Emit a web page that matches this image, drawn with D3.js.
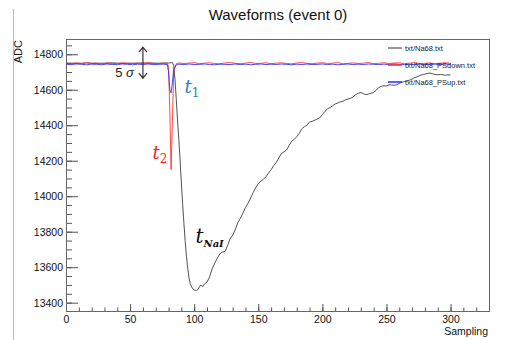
<!DOCTYPE html>
<html>
<head>
<meta charset="utf-8">
<script src="https://cdn.jsdelivr.net/npm/d3@7"></script>
<style>
  body { margin: 0; background: #fff; }
  svg { display: block; font-family: "Liberation Sans", Arial, sans-serif; }
</style>
</head>
<body>
<svg width="512" height="340"></svg>
<script>
// Na68 (black) waveform: [sampling, ADC]
const naPoints = [
  [0,14749],[4,14750],[8,14748],[12,14749],[16,14751],[20,14749],[24,14748],[28,14750],
  [32,14749],[36,14751],[40,14750],[44,14748],[48,14749],[52,14750],[56,14749],[60,14751],
  [64,14749],[68,14750],[72,14749],[76,14750],[80,14751],[82,14752],[83,14753],[84,14738],
  [85,14660],[86,14550],[87,14430],[88,14320],[89,14205],[90,14075],[91,13955],[92,13845],
  [93,13745],[94,13660],[95,13592],[96,13538],[97,13506],[98,13488],[99,13478],[100,13472],
  [101,13470],[102,13470],[103,13474],[104,13488],[105,13498],[106,13494],[107,13492],[108,13505],
  [110,13515],[112,13545],[114,13590],[116,13622],[118,13650],[120,13675],[122,13685],[124,13688],
  [126,13720],[128,13760],[130,13780],[132,13810],[134,13850],[136,13875],[138,13905],[140,13935],
  [142,13960],[144,13990],[146,14020],[148,14048],[150,14070],[152,14085],[154,14095],[156,14110],
  [158,14130],[160,14150],[162,14172],[164,14190],[166,14215],[168,14240],[170,14250],[172,14260],
  [174,14285],[176,14310],[178,14320],[180,14335],[182,14355],[184,14380],[186,14392],[188,14400],
  [190,14418],[192,14422],[194,14428],[196,14435],[198,14442],[200,14460],[202,14478],[204,14492],
  [206,14500],[208,14510],[210,14520],[212,14525],[214,14532],[216,14535],[218,14543],[220,14548],
  [222,14552],[224,14560],[226,14572],[228,14580],[230,14585],[232,14578],[234,14572],[236,14576],
  [238,14580],[240,14585],[242,14598],[244,14612],[246,14620],[248,14622],[250,14622],[252,14628],
  [254,14627],[256,14625],[258,14628],[260,14636],[262,14642],[264,14646],[266,14650],[268,14654],
  [270,14660],[272,14668],[274,14674],[276,14680],[278,14685],[280,14688],[282,14692],[284,14694],
  [286,14690],[288,14686],[290,14684],[292,14686],[294,14684],[296,14682],[298,14684],[300,14683]
];

// PSdown (red) and PSup (blue) waveforms
const preSampling = [0,4,8,12,16,20,24,28,32,36,40,44,48,52,56,60,64,68,72,76];
const spikeSampling = [79,80,81,82,83,84,86];
const postSampling = [88,92,96,100,104,108,112,116,120,124,128,132,136,140,144,148,152,156,
  160,164,168,172,176,180,184,188,192,196,200,204,208,212,216,220,224,228,232,236,240,244,
  248,252,256,260,264,268,272,276,280,284,288,292,296,300];

const downPre = [14750,14747,14752,14748,14753,14749,14751,14746,14752,14749,
  14747,14752,14750,14747,14751,14748,14753,14749,14747,14751];
const downSpike = [14749,14730,14480,14150,14420,14700,14747];
const downPost = [14751,14748,14750,14753,14747,14750,14752,14748,14746,
  14751,14753,14749,14747,14750,14754,14748,14749,14752,
  14747,14750,14752,14748,14746,14751,14753,14749,14747,
  14750,14752,14748,14750,14753,14746,14749,14751,14748,
  14750,14753,14747,14749,14752,14748,14750,14752,14746,
  14750,14753,14748,14749,14751,14747,14750,14752,14749];

const upPre = [14744,14742,14745,14743,14741,14744,14743,14741,14745,14742,
  14742,14745,14743,14741,14744,14742,14745,14742,14743,14744];
const upSpike = [14742,14700,14600,14582,14640,14715,14740];
const upPost = [14744,14742,14745,14742,14743,14745,14742,14741,14744,
  14743,14742,14745,14742,14744,14741,14743,14745,14742,
  14744,14742,14745,14743,14741,14744,14742,14745,14742,
  14743,14745,14742,14744,14741,14743,14745,14742,14744,
  14742,14745,14743,14742,14744,14742,14745,14743,14741,
  14744,14742,14745,14742,14743,14744,14742,14745,14743];

const legendLabels = ['txt/Na68.txt', 'txt/Na68_PSdown.txt', 'txt/Na68_PSup.txt'];
const xMajor = [0, 50, 100, 150, 200, 250, 300];
const yMajor = [13400, 13600, 13800, 14000, 14200, 14400, 14600, 14800];

function zipPoints(xs, ys) {
  return xs.map(function (d, i) { return [d, ys[i]]; });
}

const series = [
  { name: legendLabels[0], color: '#333', points: naPoints },
  { name: legendLabels[1], color: '#ff2a2a',
    points: zipPoints(preSampling.concat(spikeSampling, postSampling), downPre.concat(downSpike, downPost)) },
  { name: legendLabels[2], color: '#2a2aff',
    points: zipPoints(preSampling.concat(spikeSampling, postSampling), upPre.concat(upSpike, upPost)) }
];

const svg = d3.select('svg');
const frameLeft = 66, frameRight = 489, frameTop = 39, frameBottom = 311;

const x = d3.scaleLinear().domain([0, 330]).range([frameLeft, frameRight]);
const y = d3.scaleLinear().domain([13353, 14886]).range([frameBottom, frameTop]);

// window edge line at far left
svg.append('line')
  .attr('x1', 13.5).attr('x2', 13.5).attr('y1', 9).attr('y2', 340)
  .attr('stroke', '#bbb');

// title
svg.append('text')
  .attr('x', 278).attr('y', 20)
  .attr('text-anchor', 'middle')
  .attr('font-size', 15)
  .attr('fill', '#111')
  .text('Waveforms (event 0)');

// minor ticks
svg.append('g')
  .attr('transform', 'translate(0,' + frameBottom + ')')
  .call(d3.axisBottom(x).tickValues(d3.range(0, 331, 10)).tickSize(-3.5).tickFormat(''))
  .call(g => g.select('.domain').remove())
  .selectAll('line').attr('stroke', '#555');
svg.append('g')
  .attr('transform', 'translate(' + frameLeft + ',0)')
  .call(d3.axisLeft(y).tickValues(d3.range(13400, 14851, 50)).tickSize(-6).tickFormat(''))
  .call(g => g.select('.domain').remove())
  .selectAll('line').attr('stroke', '#555');

// major ticks + labels
const xAxis = svg.append('g')
  .attr('transform', 'translate(0,' + frameBottom + ')')
  .call(d3.axisBottom(x).tickValues(xMajor).tickSize(-7).tickPadding(5).tickFormat(d3.format('d')));
xAxis.select('.domain').remove();
xAxis.selectAll('line').attr('stroke', '#555');
xAxis.selectAll('text').attr('font-size', 10.5).attr('fill', '#111')
  .attr('font-family', '"Liberation Sans", Arial, sans-serif');

const yAxis = svg.append('g')
  .attr('transform', 'translate(' + frameLeft + ',0)')
  .call(d3.axisLeft(y).tickValues(yMajor).tickSize(-12).tickPadding(3).tickFormat(d3.format('d')));
yAxis.select('.domain').remove();
yAxis.selectAll('line').attr('stroke', '#555');
yAxis.selectAll('text').attr('font-size', 10.5).attr('fill', '#111')
  .attr('font-family', '"Liberation Sans", Arial, sans-serif');

// frame
svg.append('rect')
  .attr('x', frameLeft + 0.5).attr('y', frameTop + 0.5)
  .attr('width', frameRight - frameLeft).attr('height', frameBottom - frameTop)
  .attr('fill', 'none').attr('stroke', '#666');

// axis titles
svg.append('text')
  .attr('transform', 'translate(22,40) rotate(-90)')
  .attr('text-anchor', 'end')
  .attr('font-size', 11).attr('fill', '#111')
  .text('ADC');
svg.append('text')
  .attr('x', 488).attr('y', 335)
  .attr('text-anchor', 'end')
  .attr('font-size', 10.5).attr('fill', '#111')
  .text('Sampling');

// waveforms
const line = d3.line()
  .x(d => x(d[0]))
  .y(d => y(d[1]));

svg.append('g').selectAll('path')
  .data(series)
  .join('path')
  .attr('d', d => line(d.points))
  .attr('fill', 'none')
  .attr('stroke', d => d.color)
  .attr('stroke-width', 1)
  .attr('stroke-opacity', 0.85);

// legend
const legend = svg.append('g').selectAll('g')
  .data(series)
  .join('g')
  .attr('transform', (d, i) => 'translate(388,' + (48 + i * 17) + ')');
legend.append('line')
  .attr('x1', 0).attr('x2', 14)
  .attr('stroke', d => d.color)
  .attr('stroke-width', (d, i) => i === 0 ? 1 : 1.5);
legend.append('text')
  .attr('x', 17).attr('dy', '0.35em')
  .attr('font-size', 7.5).attr('fill', '#222')
  .text(d => d.name);

// 5 sigma double arrow
const arrowX = x(60);
const arrowTop = y(14840), arrowBot = y(14665);
svg.append('path')
  .attr('d', 'M' + arrowX + ',' + arrowTop + 'V' + arrowBot +
    'M' + (arrowX - 4) + ',' + (arrowTop + 5) + 'L' + arrowX + ',' + arrowTop + 'L' + (arrowX + 4) + ',' + (arrowTop + 5) +
    'M' + (arrowX - 4) + ',' + (arrowBot - 5) + 'L' + arrowX + ',' + arrowBot + 'L' + (arrowX + 4) + ',' + (arrowBot - 5))
  .attr('fill', 'none').attr('stroke', '#333').attr('stroke-width', 1.2);

const sigma = svg.append('text')
  .attr('x', x(53)).attr('y', y(14672))
  .attr('text-anchor', 'end')
  .attr('font-size', 13).attr('fill', '#222');
sigma.append('tspan').text('5 ');
sigma.append('tspan').attr('font-style', 'italic').text('σ');

// time labels
function timeLabel(sx, adc, sub, color, subStyle) {
  const t = svg.append('text')
    .attr('x', x(sx)).attr('y', y(adc))
    .attr('font-family', '"DejaVu Serif", "Liberation Serif", serif')
    .attr('fill', color);
  t.append('tspan').attr('font-style', 'italic').attr('font-size', subStyle.tSize).text('t');
  t.append('tspan').attr('dy', 4).attr('font-size', subStyle.size)
    .attr('font-style', subStyle.italic ? 'italic' : 'normal')
    .attr('font-weight', subStyle.bold ? 'bold' : 'normal')
    .text(sub);
}
timeLabel(92.5, 14582, '1', '#2a7fd0', { tSize: 18, size: 12 });
timeLabel(67.5, 14212, '2', '#ff2020', { tSize: 18, size: 12 });
timeLabel(101, 13738, 'NaI', '#111', { tSize: 20, size: 10, italic: true, bold: true });
</script>
</body>
</html>
